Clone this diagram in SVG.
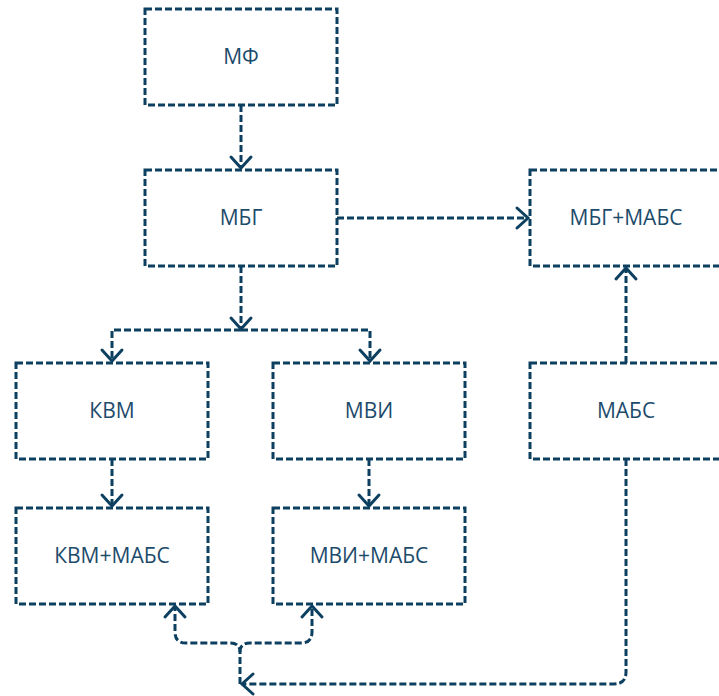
<svg xmlns="http://www.w3.org/2000/svg" width="719" height="696" viewBox="0 0 719 696">
<defs>
<style>
.box{fill:#fff;stroke:#0d4060;stroke-width:3;stroke-dasharray:7 3}
.lbl{font-family:"Open Sans",sans-serif;font-size:21px;fill:#1d4b6b;text-anchor:middle}
.edge{fill:none;stroke:#0d4060;stroke-width:3;stroke-dasharray:7 3}
</style>
<marker id="arr" markerUnits="userSpaceOnUse" viewBox="-16 -14 20 28" markerWidth="20" markerHeight="28" refX="0" refY="0" orient="auto">
<path d="M-11,-10 L0,0 L-11,10" fill="none" stroke="#0d4060" stroke-width="3" stroke-linecap="round"/>
</marker>
</defs>
<rect width="719" height="696" fill="#fff"/>
<g id="edges">
<path class="edge" d="M241 105 L241 168" marker-end="url(#arr)"/>
<path class="edge" d="M241 266 L241 329" marker-end="url(#arr)"/>
<path class="edge" d="M241 330 L112 330 L112 361" marker-end="url(#arr)"/>
<path class="edge" d="M241 330 L370 330 L370 361" marker-end="url(#arr)"/>
<path class="edge" d="M337 218 L528 218" marker-end="url(#arr)"/>
<path class="edge" d="M626 363 L626 268" marker-end="url(#arr)"/>
<path class="edge" d="M112 459 L112 506" marker-end="url(#arr)"/>
<path class="edge" d="M369 459 L369 506" marker-end="url(#arr)"/>
<path class="edge" d="M626 459 L626 672 Q626 684 614 684 L242 684" marker-end="url(#arr)"/>
<path class="edge" d="M240 684 L240 652 Q240 643 230 643 L186 643 Q175 643 175 632 L175 606" marker-end="url(#arr)"/>
<path class="edge" d="M240 652 Q240 643 250 643 L301 643 Q312 643 312 632 L312 606" marker-end="url(#arr)"/>
</g>
<g id="n-mf"><rect class="box" x="145" y="9" width="192" height="96"/><text class="lbl" x="241" y="64">МФ</text></g>
<g id="n-mbg"><rect class="box" x="145" y="170" width="192" height="96"/><text class="lbl" x="241" y="225">МБГ</text></g>
<g id="n-mbg-mabs"><rect class="box" x="530" y="170" width="192" height="96"/><text class="lbl" x="626" y="225">МБГ+МАБС</text></g>
<g id="n-kvm"><rect class="box" x="16" y="363" width="192" height="96"/><text class="lbl" x="112" y="418">КВМ</text></g>
<g id="n-mvi"><rect class="box" x="273" y="363" width="192" height="96"/><text class="lbl" x="369" y="418">МВИ</text></g>
<g id="n-mabs"><rect class="box" x="530" y="363" width="192" height="96"/><text class="lbl" x="626" y="418">МАБС</text></g>
<g id="n-kvm-mabs"><rect class="box" x="16" y="508" width="192" height="96"/><text class="lbl" x="112" y="563">КВМ+МАБС</text></g>
<g id="n-mvi-mabs"><rect class="box" x="273" y="508" width="192" height="96"/><text class="lbl" x="369" y="563">МВИ+МАБС</text></g>
</svg>
